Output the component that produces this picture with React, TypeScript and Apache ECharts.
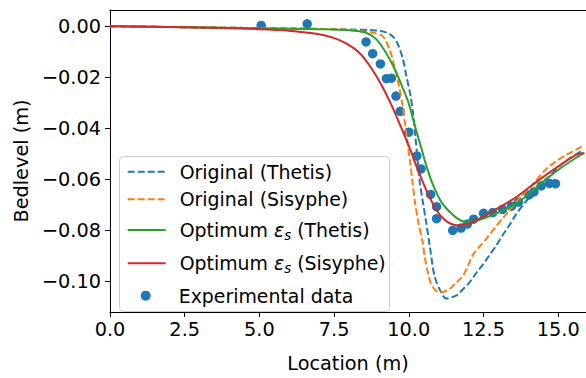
import { useEffect, useRef } from 'react';
import * as echarts from 'echarts';

const FONT = 'DejaVu Sans';
const FS = 19.3;
const LFS = 18.9;

const xTicks = [0, 2.5, 5, 7.5, 10, 12.5, 15];
const yTicks = [0, -0.02, -0.04, -0.06, -0.08, -0.1];

const seriesNames = [
  'Original (Thetis)',
  'Original (Sisyphe)',
  'Optimum εs (Thetis)',
  'Optimum εs (Sisyphe)',
  'Experimental data',
];
const seriesColors = ['#1f77b4', '#ff7f0e', '#2ca02c', '#d62728', '#1f77b4'];

const originalThetis: [number, number][] = [
  [0, 0], [3, -0.0005], [6, -0.0009], [8, -0.0013], [8.8, -0.0016], [9.1, -0.002],
  [9.35, -0.003], [9.5, -0.0045], [9.63, -0.007], [9.8, -0.0127], [9.91, -0.0191],
  [10.05, -0.0268], [10.13, -0.033], [10.22, -0.0433], [10.31, -0.0547], [10.37, -0.0614],
  [10.47, -0.0689], [10.58, -0.0769], [10.69, -0.0853], [10.86, -0.0979], [11.08, -0.1044],
  [11.25, -0.1068], [11.59, -0.1056], [11.81, -0.1032], [12.03, -0.1005], [12.26, -0.0967],
  [12.48, -0.0935], [12.7, -0.0898], [12.93, -0.0860], [13.15, -0.0818], [13.37, -0.078],
  [13.59, -0.0738], [14.04, -0.067], [14.48, -0.0612], [14.71, -0.0588], [15.15, -0.0538],
  [15.82, -0.0486],
];

const originalSisyphe: [number, number][] = [
  [0, 0], [3, -0.0005], [6, -0.0009], [8, -0.0014], [8.36, -0.0019], [8.8, -0.0026],
  [9.13, -0.004], [9.35, -0.0089], [9.52, -0.0158], [9.67, -0.0234], [9.8, -0.0318],
  [9.91, -0.0414], [9.97, -0.0471], [10.04, -0.0528], [10.12, -0.0610], [10.22, -0.07],
  [10.32, -0.0769], [10.47, -0.0853], [10.54, -0.091], [10.64, -0.0967], [10.73, -0.1005],
  [10.89, -0.1036], [11.09, -0.1044], [11.36, -0.1031], [11.56, -0.1009], [11.81, -0.0979],
  [11.96, -0.0944], [12.14, -0.0898], [12.37, -0.0864], [12.59, -0.0834], [12.93, -0.0784],
  [13.15, -0.0753], [13.37, -0.0723], [13.59, -0.0689], [14.15, -0.0620], [14.6, -0.0560],
  [14.93, -0.0530], [15.27, -0.0505], [15.82, -0.0471],
];

const optimumThetis: [number, number][] = [
  [0, 0], [2.5, -0.0004], [5, -0.0008], [7, -0.0012], [8, -0.0016], [8.57, -0.0026],
  [8.91, -0.0051], [9.24, -0.0105], [9.52, -0.0166], [9.75, -0.0229], [9.97, -0.0293],
  [10.1, -0.0345], [10.25, -0.0410], [10.42, -0.0478], [10.58, -0.0545], [10.8, -0.0620],
  [11.08, -0.0688], [11.47, -0.0740], [11.75, -0.0763], [12.0, -0.0767], [12.3, -0.0762],
  [12.6, -0.0750], [13.04, -0.0729], [13.6, -0.0695], [14.0, -0.0660], [14.37, -0.0622],
  [15.04, -0.0560], [15.6, -0.0516], [15.88, -0.0497],
];

const optimumSisyphe: [number, number][] = [
  [0, 0], [2.5, -0.0004], [5, -0.0012], [6, -0.0018], [6.9, -0.003], [7.46, -0.0045],
  [7.9, -0.0068], [8.35, -0.0105], [8.72, -0.016], [9.07, -0.0228], [9.4, -0.0305],
  [9.7, -0.0385], [10.0, -0.047], [10.3, -0.0562], [10.58, -0.0642], [10.92, -0.072],
  [11.2, -0.076], [11.5, -0.0779], [11.75, -0.0782], [12.14, -0.0768], [12.59, -0.074],
  [13.04, -0.071], [13.6, -0.067], [14.37, -0.0602], [15.04, -0.0547], [15.49, -0.0512],
  [15.71, -0.05], [15.85, -0.0497],
];

const experimental: [number, number][] = [
  [5.06, 0.0003], [6.6, 0.0009], [8.57, -0.0062], [8.79, -0.0108], [9.05, -0.0148],
  [9.25, -0.0206], [9.42, -0.0204], [9.57, -0.0274], [9.71, -0.0334], [10.0, -0.0416],
  [10.27, -0.0509], [10.41, -0.056], [10.73, -0.066], [10.93, -0.0708], [10.93, -0.0755],
  [11.47, -0.0801], [11.75, -0.0792], [11.96, -0.0776], [12.17, -0.0757], [12.5, -0.0734],
  [12.81, -0.0731], [13.14, -0.0719], [13.44, -0.0706], [13.67, -0.069], [14.02, -0.0662],
  [14.19, -0.065], [14.43, -0.0626], [14.71, -0.0617], [14.91, -0.0618],
];

const legendRowCenters = [171.7, 199.3, 230, 263.3, 295.7];

export default function App() {
  const ref = useRef<HTMLDivElement>(null);

  useEffect(() => {
    if (!ref.current) return;
    const chart = echarts.init(ref.current, undefined, { renderer: 'svg' });

    const textBase = { fontFamily: FONT, fontSize: FS, color: '#000' };
    const lineData = [originalThetis, originalSisyphe, optimumThetis, optimumSisyphe];

    const lineSeries = lineData.map((d, i) => ({
      type: 'line',
      name: seriesNames[i],
      data: d,
      symbol: 'none',
      showSymbol: false,
      smooth: 0.3,
      z: 3,
      lineStyle: {
        color: seriesColors[i],
        width: 2,
        type: i < 2 ? [7, 3] : 'solid',
      },
      itemStyle: { color: seriesColors[i] },
    }));

    const scatter = {
      type: 'scatter',
      name: seriesNames[4],
      data: experimental,
      symbol: 'circle',
      symbolSize: 9.5,
      z: 1,
      itemStyle: { color: seriesColors[4], opacity: 1 },
    };

    const rich = {
      e: { fontFamily: FONT, fontSize: LFS, fontStyle: 'italic', color: '#000', lineHeight: 24 },
      s: { fontFamily: FONT, fontSize: 13.3, fontStyle: 'italic', color: '#000', lineHeight: 14, verticalAlign: 'bottom' },
    };

    const legends = seriesNames.map((name, i) => ({
      data: [name],
      left: i === 4 ? 126.7 + 14 : 126.7,
      top: legendRowCenters[i] - 12,
      orient: 'vertical',
      padding: 0,
      itemGap: 0,
      itemWidth: 38,
      itemHeight: i === 4 ? 10 : 14,
      selectedMode: false,
      z: 6,
      itemStyle: i === 4 ? {} : { opacity: 0 },
      formatter: (n: string) => n.replace('εs', '{e|ε}{s|s}'),
      textStyle: { fontFamily: FONT, fontSize: LFS, color: '#000', lineHeight: 24, padding: [0, 0, 0, 9], rich },
    }));

    chart.setOption({
      animation: false,
      backgroundColor: '#fff',
      textStyle: { fontFamily: FONT },
      grid: { left: 110, right: 0, top: 10, bottom: 57.5, containLabel: false },
      xAxis: [
        {
          type: 'value',
          min: 0,
          max: 15.93,
          position: 'bottom',
          axisLine: { show: true, onZero: false, lineStyle: { color: '#000', width: 1 } },
          axisTick: { show: true, inside: false, length: 5, customValues: xTicks, lineStyle: { color: '#000' } },
          axisLabel: {
            ...textBase,
            margin: 8,
            customValues: xTicks,
            formatter: (v: number) => v.toFixed(1),
          },
          splitLine: { show: false },
          name: 'Location (m)',
          nameLocation: 'middle',
          nameGap: 42,
          nameTextStyle: { ...textBase },
        },
        {
          type: 'value',
          min: 0,
          max: 15.93,
          position: 'top',
          axisLine: { show: true, onZero: false, lineStyle: { color: '#000', width: 1 } },
          axisTick: { show: false },
          axisLabel: { show: false },
          splitLine: { show: false },
        },
      ],
      yAxis: {
        type: 'value',
        min: -0.1121,
        max: 0.00633,
        axisLine: { show: true, onZero: false, lineStyle: { color: '#000', width: 1 } },
        axisTick: { show: true, inside: false, length: 5, customValues: yTicks, lineStyle: { color: '#000' } },
        axisLabel: {
          ...textBase,
          margin: 9,
          customValues: yTicks,
          formatter: (v: number) => (v < -1e-9 ? '\u2212' : '') + Math.abs(v).toFixed(2),
        },
        splitLine: { show: false },
        name: 'Bedlevel (m)',
        nameLocation: 'middle',
        nameGap: 77,
        nameTextStyle: { ...textBase },
      },
      legend: legends,
      graphic: [
        {
          type: 'rect',
          z: 5,
          shape: { x: 119.5, y: 156.5, width: 270, height: 155, r: 4 },
          style: { fill: 'rgba(255,255,255,0.8)', stroke: '#cccccc', lineWidth: 1 },
        },
      ],
      series: [...lineSeries, scatter],
    });

    return () => chart.dispose();
  }, []);

  return (
    <div
      ref={ref}
      style={{ position: 'fixed', left: 0, top: 0, width: 586, height: 378 }}
    />
  );
}
